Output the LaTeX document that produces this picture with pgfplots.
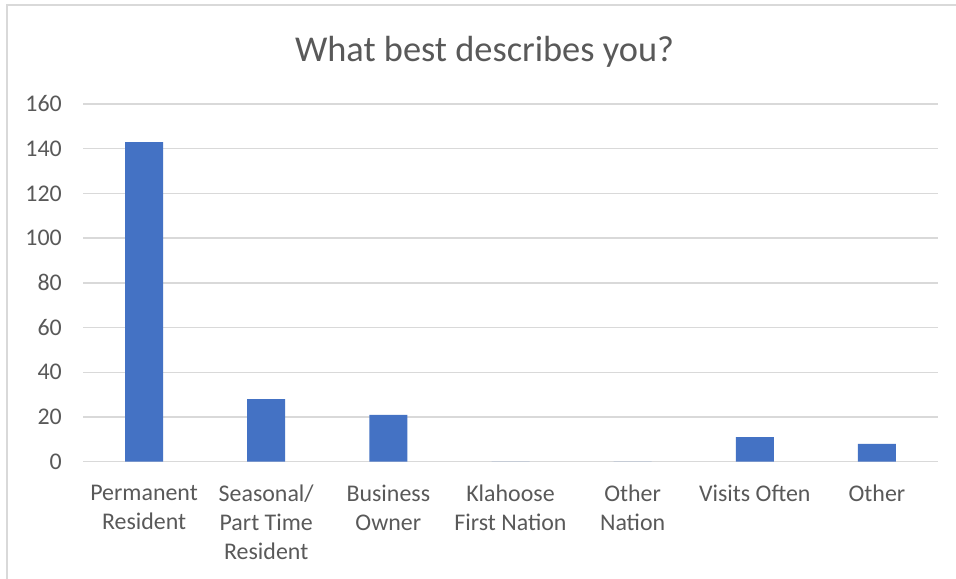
\documentclass[border=0pt]{standalone}
\usepackage{pgfplots}
\pgfplotsset{compat=1.18}
\usepackage{fontspec}
\setmainfont{Carlito}
\definecolor{barblue}{HTML}{4472C4}
\definecolor{txtgray}{HTML}{595959}
\definecolor{gridgray}{HTML}{D9D9D9}
\begin{document}
\begin{tikzpicture}
\useasboundingbox (0,0) rectangle (956bp,579bp);
\fill[white] (0,0) rectangle (956bp,579bp);
\draw[gridgray, line width=1.5bp] (7bp,0) -- (7bp,574bp) -- (956bp,574bp);
\begin{axis}[
 at={(83bp,117.3bp)}, anchor=south west,
 scale only axis, width=855bp, height=357.7bp,
 xmin=-0.5, xmax=6.5, ymin=0, ymax=160,
 ybar, bar width=38bp,
 ytick={0,20,...,160},
 xtick={0,...,6},
 xticklabels={{Permanent\\Resident},{Seasonal/\\Part Time\\Resident},{Business\\Owner},{Klahoose\\First Nation},{Other\\Nation},{Visits Often},{Other}},
 axis line style={draw=none},
 major tick length=0pt,
 ymajorgrids, grid style={gridgray, line width=1.5bp},
 tick label style={font=\fontsize{24}{29}\selectfont, text=txtgray},
 xticklabel style={align=center, anchor=north, inner sep=0pt, yshift=-23bp},
 yticklabel style={anchor=east, inner sep=0pt, xshift=-21bp},
 /pgf/number format/assume math mode=true,
 title={What best describes you?},
 title style={font=\fontsize{36.5}{44}\selectfont, text=txtgray, anchor=base, at={(0.5,1)}, yshift=37bp, xshift=-26bp, inner sep=0pt},
]
\addplot[fill=barblue, draw=none] coordinates {(0,143) (1,28) (2,21) (3,0) (4,0) (5,11) (6,8)};
\end{axis}
\end{tikzpicture}
\end{document}
